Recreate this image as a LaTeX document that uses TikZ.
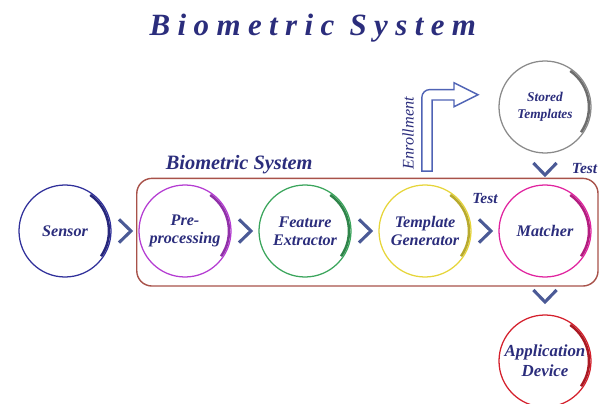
\documentclass[tikz,border=0pt]{standalone}
\usepackage{fontspec}
\setmainfont{Liberation Serif}
\newfontfamily\titlefont[LetterSpace=24]{Liberation Serif}
\usepackage{tikz}
\usetikzlibrary{positioning,fit}

\definecolor{txtblue}{HTML}{2B2D7C}
\definecolor{sensorblue}{HTML}{30309A}
\definecolor{prepurple}{HTML}{B43CD2}
\definecolor{featgreen}{HTML}{3BA55C}
\definecolor{tgenyellow}{HTML}{E6D53A}
\definecolor{matchpink}{HTML}{E0249F}
\definecolor{storegray}{HTML}{8A8A8A}
\definecolor{appred}{HTML}{D4202C}
\definecolor{boxred}{HTML}{A8524A}
\definecolor{chevblue}{HTML}{4B5A96}
\definecolor{arrowblue}{HTML}{4F63B5}

\tikzset{
  stage/.style={draw, circle, minimum size=2.3cm, inner sep=0pt, align=center, line width=0.9pt,
    text=txtblue, font=\fontsize{11.5}{13}\selectfont\bfseries\itshape},
  chev/.style={draw=chevblue, line width=2.2pt},
  lbl/.style={text=txtblue, font=\fontsize{11}{13}\selectfont\bfseries\itshape},
  enroll/.style={draw=arrowblue, line width=1pt, fill=white}
}

\begin{document}
\begin{tikzpicture}[node distance=3cm]
    \useasboundingbox (0,0) rectangle (15.175,10.1);
    % Title
    \node[text=txtblue, font=\titlefont\fontsize{22}{25}\selectfont\bfseries\itshape] (title) at (7.82,9.4) {Biometric System};

    % Circles
    \node[stage, draw=sensorblue] (sensor) at (1.625,4.325) {Sensor};
    \node[stage, draw=prepurple, right of=sensor] (pre) {Pre-\\processing};
    \node[stage, draw=featgreen, right of=pre] (feat) {Feature\\Extractor};
    \node[stage, draw=tgenyellow, right of=feat] (tgen) {Template\\Generator};
    \node[stage, draw=matchpink, right of=tgen] (match) {Matcher};
    \node[stage, draw=storegray, above of=match, node distance=3.1cm, font=\fontsize{9.5}{12}\selectfont\bfseries\itshape] (stored) {Stored\\Templates};
    \node[stage, draw=appred, below of=match, node distance=3.25cm, font=\fontsize{12}{14}\selectfont\bfseries\itshape] (app) {Application\\Device};

    % darker part of each ring
    \foreach \n/\c in {sensor/sensorblue, pre/prepurple, feat/featgreen, tgen/tgenyellow, match/matchpink, stored/storegray, app/appred}
        \draw[\c!80!black, line width=1.8pt] ([shift={(55:1.1)}]\n.center) arc[start angle=55, end angle=-35, radius=1.1];

    % Box
    \node[draw=boxred, line width=1pt, rounded corners=0.38cm, fit=(pre)(match), inner xsep=0.1cm, inner ysep=0.18cm, xshift=0.06cm, yshift=-0.03cm] (sysbox) {};
    \node[lbl, font=\fontsize{14.5}{17}\selectfont\bfseries\itshape, anchor=base west] (syslabel) at ([xshift=0.62cm, yshift=0.2cm]sysbox.north west) {Biometric System};

    % Chevrons
    \foreach \a/\b in {sensor/pre, pre/feat, feat/tgen, tgen/match} {
        \path (\a) -- coordinate[midway] (m) (\b);
        \draw[chev] ([shift={(-0.15,0.29)}]m) -- ([xshift=0.15cm]m) -- ([shift={(-0.15,-0.29)}]m);
    }
    \foreach \a/\b in {stored/match, match/app} {
        \path (\a) -- coordinate[midway] (m) (\b);
        \draw[chev] ([shift={(-0.29,0.15)}]m) -- ([yshift=-0.15cm]m) -- ([shift={(0.29,0.15)}]m);
    }
    \path (tgen) -- coordinate[midway] (tm) (match);
    \path (stored) -- coordinate[midway] (sm) (match);
    \node[lbl] (test1) at ([yshift=0.82cm]tm) {Test};
    \node[lbl, right] (test2) at ([xshift=0.55cm]sm) {Test};

    % Enrollment arrow
    \draw[enroll] ([xshift=-0.08cm, yshift=0.33cm]tgen.north) -- ++(0,1.84) arc[start angle=180, end angle=90, radius=0.2]
        -- ++(0.605,0) -- ++(0,0.17) -- ++(0.6,-0.3) -- ++(-0.6,-0.3) -- ++(0,0.17) -- ++(-0.545,0) -- ++(0,-1.78) -- cycle;
    \node[rotate=90, text=txtblue, font=\fontsize{11.5}{13}\selectfont\itshape] (enr) at ([xshift=-0.42cm, yshift=1.28cm]tgen.north) {Enrollment};
\end{tikzpicture}
\end{document}
